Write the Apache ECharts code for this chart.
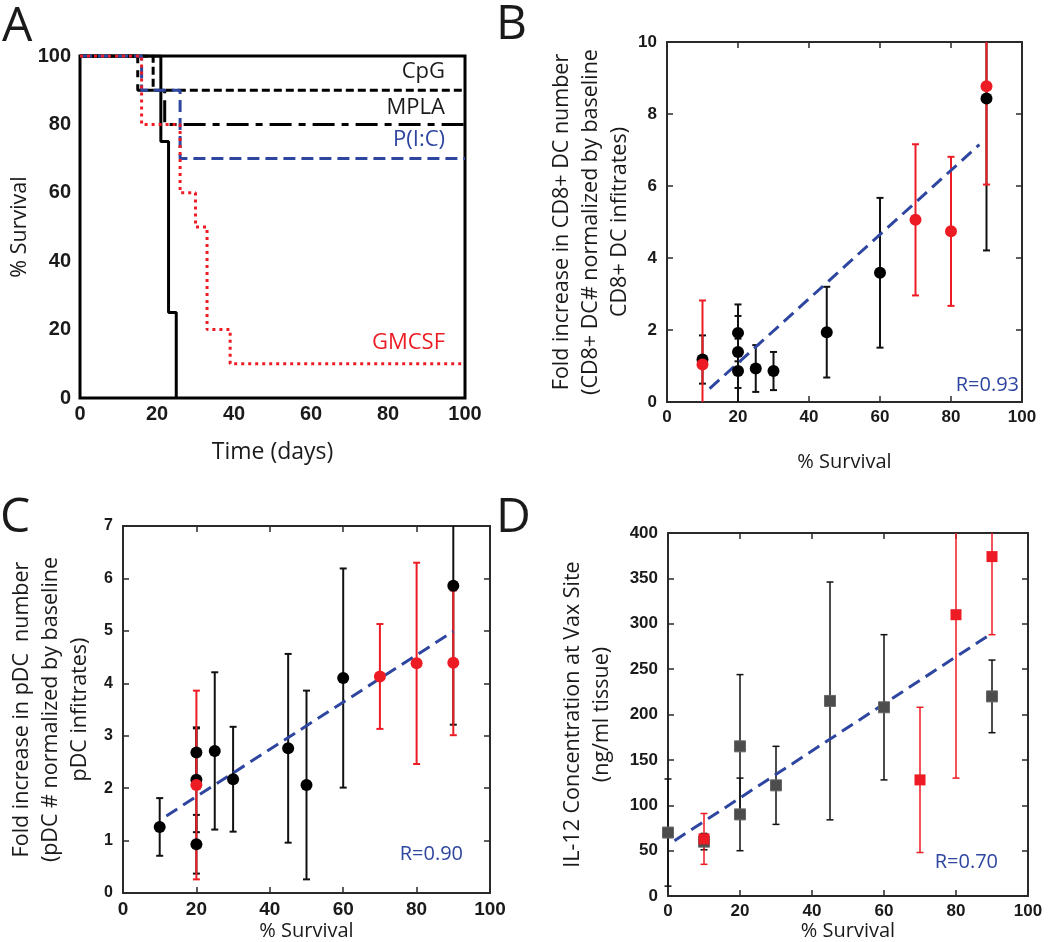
<!DOCTYPE html>
<html>
<head>
<meta charset="utf-8">
<script src="https://cdn.jsdelivr.net/npm/echarts@6/dist/echarts.min.js"></script>
<style>
html,body{margin:0;padding:0;background:#fff;}
#chart{width:1050px;height:942px;}
</style>
</head>
<body>
<div id="chart"></div>
<script>
// ---------- Panel A : survival curves (event days / survival %) ----------
const ctrlDays  = [0, 21, 23, 25];
const ctrlSurv  = [100, 75, 25, 0];
const cpgDays   = [0, 19, 100];
const cpgSurv   = [100, 90, 90];
const mplaDays  = [0, 15, 22, 100];
const mplaSurv  = [100, 90, 80, 80];
const picDays   = [0, 16, 26, 100];
const picSurv   = [100, 90, 70, 70];
const gmDays    = [0, 16, 26, 30, 33, 39, 100];
const gmSurv    = [100, 80, 60, 50, 20, 10, 10];
const curveLabels = ['CpG', 'MPLA', 'P(I:C)', 'GMCSF'];

// ---------- Panel B : CD8+ DC fold increase ----------
const bBlackX   = [10, 20, 20, 20, 25, 30, 45, 60, 90];
const bBlackY   = [1.18, 1.92, 1.39, 0.86, 0.93, 0.86, 1.94, 3.59, 8.43];
const bBlackErr = [0.67, 0.79, 1.0, 0.9, 0.65, 0.53, 1.26, 2.08, 4.22];
const bRedX     = [10, 70, 80, 90];
const bRedY     = [1.04, 5.06, 4.74, 8.77];
const bRedErr   = [1.78, 2.1, 2.07, 2.73];
const bFitX     = [12, 88];
const bFitY     = [0.37, 7.15];
const bR        = 'R=0.93';

// ---------- Panel C : pDC fold increase ----------
const cBlackX   = [10, 20, 20, 20, 25, 30, 45, 50, 60, 90];
const cBlackY   = [1.26, 2.68, 2.16, 0.93, 2.71, 2.17, 2.76, 2.06, 4.10, 5.86];
const cBlackErr = [0.55, 0.46, 1.0, 0.56, 1.5, 1.0, 1.8, 1.8, 2.09, 2.65];
const cRedX     = [20, 70, 80, 90];
const cRedY     = [2.06, 4.13, 4.38, 4.39];
const cRedErr   = [1.8, 1.0, 1.92, 1.38];
const cFitX     = [11.8, 90];
const cFitY     = [1.47, 4.99];
const cR        = 'R=0.90';

// ---------- Panel D : IL-12 concentration ----------
const dGrayX    = [0, 10, 20, 20, 30, 45, 60, 90];
const dGrayY    = [70, 60, 165, 90, 122, 215, 208, 220];
const dGrayErr  = [59, 9, 79, 40, 43, 131, 80, 40];
const dRedX     = [10, 70, 80, 90];
const dRedY     = [63, 128, 310, 374];
const dRedErr   = [28, 80, 180, 86];
const dFitX     = [1.8, 89.4];
const dFitY     = [61, 288];
const dR        = 'R=0.70';

// ---------- styling ----------
const RED = '#ed1c24', BLUE = '#2e46a0', GRAY = '#4d4d4d', INK = '#1a1a1a';
const SANS = "'Open Sans', 'Noto Sans', sans-serif";
const TICKFONT = "'Liberation Sans', Arial, sans-serif";

const zip = (xs, ys) => xs.map((x, i) => [x, ys[i]]);
const zip3 = (xs, ys, es) => xs.map((x, i) => [x, ys[i], es[i]]);

function errSeries(xi, yi, data, yMin, yMax, color, width, half) {
  return {
    type: 'custom', xAxisIndex: xi, yAxisIndex: yi, data: data, silent: true, z: 2,
    encode: {x: 0, y: 1},
    renderItem: function (params, api) {
      const x = api.value(0), y = api.value(1), e = api.value(2);
      const lo = Math.max(yMin, y - e), hi = Math.min(yMax, y + e);
      const pLo = api.coord([x, lo]), pHi = api.coord([x, hi]);
      const st = {stroke: color, lineWidth: width};
      const ch = [{type: 'line', shape: {x1: pLo[0], y1: pLo[1], x2: pHi[0], y2: pHi[1]}, style: st}];
      if (y - e >= yMin) ch.push({type: 'line', shape: {x1: pLo[0] - half, y1: pLo[1], x2: pLo[0] + half, y2: pLo[1]}, style: st});
      if (y + e <= yMax) ch.push({type: 'line', shape: {x1: pHi[0] - half, y1: pHi[1], x2: pHi[0] + half, y2: pHi[1]}, style: st});
      return {type: 'group', children: ch};
    }
  };
}

function pointSeries(xi, yi, data, color, symbol, size, border) {
  return {type: 'scatter', xAxisIndex: xi, yAxisIndex: yi, data: data, symbol: symbol,
    symbolSize: size, z: 4, silent: true,
    itemStyle: {color: color, opacity: 1, borderColor: border || color, borderWidth: border ? 1 : 0}};
}

function fitSeries(xi, yi, data) {
  return {type: 'line', xAxisIndex: xi, yAxisIndex: yi, data: data, symbol: 'none', z: 3, silent: true,
    lineStyle: {color: BLUE, width: 3, type: [13, 7]}};
}

function kmSeries(data, color, dash, width) {
  return {type: 'line', xAxisIndex: 0, yAxisIndex: 0, data: data, step: 'end', symbol: 'none', silent: true,
    lineStyle: {color: color, width: width, type: dash}};
}

const labelStyle = (size, margin) => ({fontFamily: TICKFONT, fontWeight: 'bold', fontSize: size, color: INK, margin: margin});
const frameLine = {show: true, onZero: false, lineStyle: {color: '#2a2a2a', width: 2}};
const tickIn = {show: true, inside: true, length: 6, lineStyle: {color: '#2a2a2a', width: 1.5}};

function xPair(grid, min, max, interval, labelSize, name, nameGap) {
  return [
    {type: 'value', gridIndex: grid, min: min, max: max, interval: interval, position: 'bottom',
     axisLine: frameLine, axisTick: tickIn, splitLine: {show: false},
     axisLabel: labelStyle(labelSize, 7),
     name: name, nameLocation: 'middle', nameGap: nameGap,
     nameTextStyle: {fontFamily: SANS, fontSize: 20, color: INK}},
    {type: 'value', gridIndex: grid, min: min, max: max, interval: interval, position: 'top',
     axisLine: frameLine, axisTick: tickIn, splitLine: {show: false}, axisLabel: {show: false}}
  ];
}
function yPair(grid, min, max, interval, labelSize, name, nameGap) {
  return [
    {type: 'value', gridIndex: grid, min: min, max: max, interval: interval, position: 'left',
     axisLine: frameLine, axisTick: tickIn, splitLine: {show: false},
     axisLabel: labelStyle(labelSize, 10),
     name: name, nameLocation: 'middle', nameGap: nameGap, nameRotate: 90,
     nameTextStyle: {fontFamily: SANS, fontSize: 21.5, color: INK, lineHeight: 29, align: 'center'}},
    {type: 'value', gridIndex: grid, min: min, max: max, interval: interval, position: 'right',
     axisLine: frameLine, axisTick: tickIn, splitLine: {show: false}, axisLabel: {show: false}}
  ];
}

const option = {
  backgroundColor: '#fff',
  animation: false,
  grid: [
    {left: 80, top: 56, width: 385, height: 342, show: true, borderColor: '#000', borderWidth: 3, backgroundColor: 'transparent'},
    {left: 667, top: 42, width: 355, height: 360},
    {left: 123, top: 526, width: 367, height: 367},
    {left: 668, top: 533, width: 360, height: 370}
  ],
  xAxis: [
    {type: 'value', gridIndex: 0, min: 0, max: 100, interval: 20,
     axisLine: {show: false}, axisTick: {show: false}, splitLine: {show: false},
     axisLabel: labelStyle(20, 6),
     name: 'Time (days)', nameLocation: 'middle', nameGap: 43,
     nameTextStyle: {fontFamily: SANS, fontSize: 23, color: INK}},
    ...xPair(1, 0, 100, 20, 17, '% Survival', 50),
    ...xPair(2, 0, 100, 20, 19, '% Survival', 28),
    ...xPair(3, 0, 100, 20, 17, '% Survival', 19)
  ],
  yAxis: [
    {type: 'value', gridIndex: 0, min: 0, max: 100, interval: 20,
     axisLine: {show: false}, axisTick: {show: false}, splitLine: {show: false},
     axisLabel: labelStyle(20, 9),
     name: '% Survival', nameLocation: 'middle', nameGap: 49, nameRotate: 90,
     nameTextStyle: {fontFamily: SANS, fontSize: 21.5, color: INK}},
    ...yPair(1, 0, 10, 2, 17, 'Fold increase in CD8+ DC number\n(CD8+ DC# normalized by baseline\nCD8+ DC infitrates)', 30),
    ...yPair(2, 0, 7, 1, 16, 'Fold increase in pDC  number\n(pDC # normalized by baseline\npDC infitrates)', 29),
    ...yPair(3, 0, 400, 50, 17, 'IL-12 Concentration at Vax Site\n(ng/ml tissue)', 52)
  ],
  series: [
    // Panel A
    kmSeries(zip(ctrlDays, ctrlSurv), '#000', 'solid', 3),
    kmSeries(zip(cpgDays, cpgSurv), '#000', [8, 4], 3),
    kmSeries(zip(mplaDays, mplaSurv), '#000', [22, 7, 7, 7], 3),
    kmSeries(zip(picDays, picSurv), BLUE, [12, 6], 3),
    kmSeries(zip(gmDays, gmSurv), RED, [3, 4], 3),
    // Panel B
    fitSeries(1, 1, zip(bFitX, bFitY)),
    errSeries(1, 1, zip3(bBlackX, bBlackY, bBlackErr), 0, 10, '#111', 2, 3.5),
    errSeries(1, 1, zip3(bRedX, bRedY, bRedErr), 0, 10, RED, 2, 3.5),
    pointSeries(1, 1, zip(bBlackX, bBlackY), '#000', 'circle', 12),
    pointSeries(1, 1, zip(bRedX, bRedY), RED, 'circle', 12),
    // Panel C
    fitSeries(3, 3, zip(cFitX, cFitY)),
    errSeries(3, 3, zip3(cBlackX, cBlackY, cBlackErr), 0, 7, '#111', 2, 3.5),
    errSeries(3, 3, zip3(cRedX, cRedY, cRedErr), 0, 7, RED, 2, 3.5),
    pointSeries(3, 3, zip(cBlackX, cBlackY), '#000', 'circle', 12),
    pointSeries(3, 3, zip(cRedX, cRedY), RED, 'circle', 12),
    // Panel D
    fitSeries(5, 5, zip(dFitX, dFitY)),
    errSeries(5, 5, zip3(dGrayX, dGrayY, dGrayErr), 0, 400, '#111', 1.5, 3.5),
    errSeries(5, 5, zip3(dRedX, dRedY, dRedErr), 0, 400, RED, 1.5, 3.5),
    pointSeries(5, 5, zip(dGrayX, dGrayY), GRAY, 'rect', 11, '#666'),
    pointSeries(5, 5, zip(dRedX, dRedY), RED, 'rect', 11)
  ],
  graphic: [
    // panel letters
    {type: 'text', left: 2, top: 3, style: {text: 'A', font: "48px " + SANS, fill: INK}},
    {type: 'text', left: 496, top: 1, style: {text: 'B', font: "48px " + SANS, fill: INK}},
    {type: 'text', left: 0, top: 494, style: {text: 'C', font: "48px " + SANS, fill: INK}},
    {type: 'text', left: 496, top: 494, style: {text: 'D', font: "48px " + SANS, fill: INK}},
    // panel A curve labels
    {type: 'text', right: 1050 - 445, top: 61, style: {text: curveLabels[0], font: "22px " + SANS, fill: INK}},
    {type: 'text', right: 1050 - 445, top: 97, style: {text: curveLabels[1], font: "22px " + SANS, fill: INK}},
    {type: 'text', right: 1050 - 445, top: 129, style: {text: curveLabels[2], font: "22px " + SANS, fill: BLUE}},
    {type: 'text', right: 1050 - 445, top: 332, style: {text: curveLabels[3], font: "22px " + SANS, fill: RED}},
    // correlation labels
    {type: 'text', right: 1050 - 1019, top: 375, style: {text: bR, font: "20px " + SANS, fill: BLUE}},
    {type: 'text', right: 1050 - 463, top: 844, style: {text: cR, font: "20px " + SANS, fill: BLUE}},
    {type: 'text', right: 1050 - 998, top: 852, style: {text: dR, font: "20px " + SANS, fill: BLUE}}
  ]
};

const chart = echarts.init(document.getElementById('chart'), null, {renderer: 'canvas'});
chart.setOption(option);
</script>
</body>
</html>
